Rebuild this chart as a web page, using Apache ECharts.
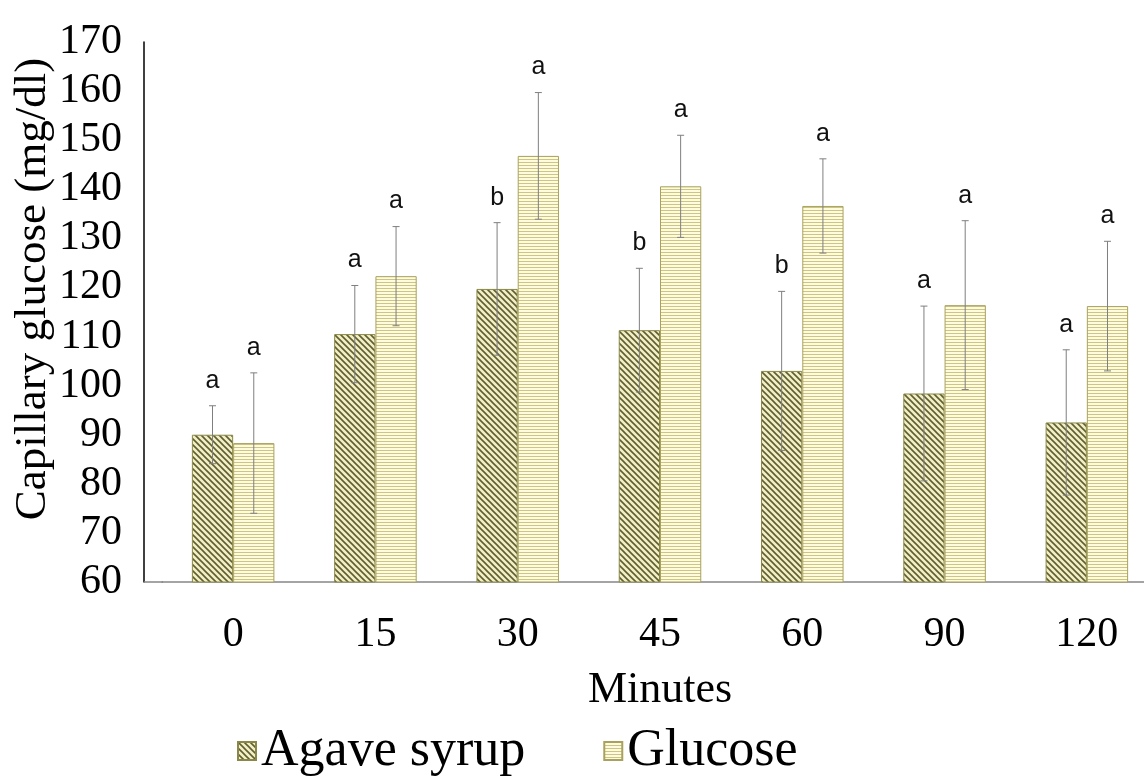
<!DOCTYPE html>
<html><head><meta charset="utf-8">
<script src="https://cdn.jsdelivr.net/npm/echarts@6/dist/echarts.min.js"></script>
<style>html,body{margin:0;padding:0;background:#fff}#c{width:1144px;height:778px}</style>
</head><body><div id="c"></div>
<script>
const categories = ['0', '15', '30', '45', '60', '90', '120'];
const agave = [90.0, 110.5, 119.7, 111.3, 103.0, 98.4, 92.5];
const agaveSD = [5.9, 9.9, 13.5, 12.6, 16.2, 17.8, 14.8];
const agaveLetters = ['a', 'a', 'b', 'b', 'b', 'a', 'a'];
const glucose = [88.3, 122.3, 146.8, 140.6, 136.6, 116.4, 116.2];
const glucoseSD = [14.3, 10.1, 12.9, 10.4, 9.6, 17.2, 13.2];
const glucoseLetters = ['a', 'a', 'a', 'a', 'a', 'a', 'a'];
const yTicks = {min: 60, max: 170, interval: 10};

function makePattern(type) {
  const c = document.createElement('canvas');
  if (type === 'diag') {
    const s = 6; c.width = s; c.height = s;
    const g = c.getContext('2d');
    g.fillStyle = '#f2efc6'; g.fillRect(0, 0, s, s);
    g.strokeStyle = '#5e5e32'; g.lineWidth = 1.6;
    g.beginPath();
    g.moveTo(-1, -1); g.lineTo(s + 1, s + 1);
    g.moveTo(-2, s - 2); g.lineTo(2, s + 2);
    g.moveTo(s - 2, -2); g.lineTo(s + 2, 2);
    g.stroke();
  } else {
    c.width = 4; c.height = 3;
    const g = c.getContext('2d');
    g.fillStyle = '#fefcdc'; g.fillRect(0, 0, 4, 3);
    g.fillStyle = '#cdc488'; g.fillRect(0, 0, 4, 1);
  }
  return c;
}
const agaveFill = {image: makePattern('diag'), repeat: 'repeat'};
const glucoseFill = {image: makePattern('horiz'), repeat: 'repeat'};

const BAR_FRAC = 0.29;
function errSeries(means, sds, letters, side) {
  return {
    type: 'custom',
    z: 5,
    silent: true,
    encode: {x: 0, y: 1},
    data: means.map((m, i) => [i, m, sds[i]]),
    renderItem: function (params, api) {
      const i = api.value(0), m = api.value(1), sd = api.value(2);
      const bw = api.size([1, 0])[0];
      const x = api.coord([i, m])[0] + side * bw * BAR_FRAC / 2;
      const yt = api.coord([i, m + sd])[1];
      const yb = api.coord([i, m - sd])[1];
      const st = {stroke: '#7f7f7f', lineWidth: 1};
      return {
        type: 'group',
        children: [
          {type: 'line', shape: {x1: x, y1: yt, x2: x, y2: yb}, style: st},
          {type: 'line', shape: {x1: x - 3.5, y1: yt, x2: x + 3.5, y2: yt}, style: st},
          {type: 'line', shape: {x1: x - 3.5, y1: yb, x2: x + 3.5, y2: yb}, style: st},
          {type: 'text', x: x, y: yt - 25, style: {text: letters[params.dataIndex], fill: '#111', font: '25px "Liberation Sans", Arial, sans-serif', align: 'center', verticalAlign: 'middle'}}
        ]
      };
    }
  };
}

const chart = echarts.init(document.getElementById('c'), null, {renderer: 'canvas'});
chart.setOption({
  animation: false,
  backgroundColor: '#ffffff',
  grid: {left: 162, top: 42, width: 996, height: 540, containLabel: false, outerBoundsMode: 'none'},
  graphic: [{type: 'line', shape: {x1: 144, y1: 582, x2: 163, y2: 582}, style: {stroke: '#868686', lineWidth: 1.5}, z: 10}],
  legend: {
    data: ['Agave syrup', 'Glucose'],
    left: 232, bottom: -4,
    icon: 'rect', itemWidth: 18, itemHeight: 18, itemGap: 78,
    textStyle: {fontFamily: '"Liberation Serif", "Times New Roman", serif', fontSize: 52, color: '#000'}
  },
  xAxis: {
    type: 'category', data: categories,
    name: 'Minutes', nameLocation: 'middle', nameGap: 86,
    nameTextStyle: {fontFamily: '"Liberation Serif", serif', fontSize: 44, color: '#000'},
    axisLine: {lineStyle: {color: '#868686', width: 1.5}},
    axisTick: {show: false},
    axisLabel: {fontFamily: '"Liberation Serif", serif', fontSize: 42, color: '#000', margin: 32}
  },
  yAxis: {
    type: 'value', min: yTicks.min, max: yTicks.max, interval: yTicks.interval,
    offset: 18,
    name: 'Capillary glucose (mg/dl)', nameLocation: 'middle', nameGap: 88, nameMoveOverlap: false,
    nameTextStyle: {fontFamily: '"Liberation Serif", serif', fontSize: 45, color: '#000', padding: [0, 0, 0, 46]},
    axisLine: {show: true, lineStyle: {color: '#000', width: 1.5}},
    axisTick: {show: false},
    splitLine: {show: false},
    axisLabel: {fontFamily: '"Liberation Serif", serif', fontSize: 42, color: '#000', margin: 22}
  },
  series: [
    {name: 'Agave syrup', type: 'bar', data: agave, barWidth: (BAR_FRAC * 100) + '%', barGap: '0%',
     itemStyle: {color: agaveFill, borderColor: '#8a8848', borderWidth: 1}},
    {name: 'Glucose', type: 'bar', data: glucose, barWidth: (BAR_FRAC * 100) + '%', barGap: '0%',
     itemStyle: {color: glucoseFill, borderColor: '#a9a25e', borderWidth: 1}},
    errSeries(agave, agaveSD, agaveLetters, -1),
    errSeries(glucose, glucoseSD, glucoseLetters, 1)
  ]
});
</script></body></html>
